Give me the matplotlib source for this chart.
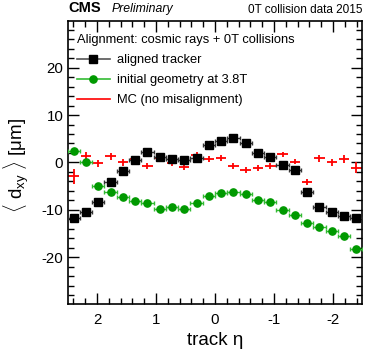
import numpy as np
import matplotlib
matplotlib.use("Agg")
import matplotlib.pyplot as plt
from matplotlib.lines import Line2D
from matplotlib.ticker import MultipleLocator

plt.rcParams['font.family'] = ['Liberation Sans', 'DejaVu Sans']
plt.rcParams['mathtext.fontset'] = 'custom'
plt.rcParams['mathtext.rm'] = 'Liberation Sans'
plt.rcParams['mathtext.it'] = 'Liberation Sans:italic'
plt.rcParams['axes.unicode_minus'] = False

# 24 eta bins between -2.5 and 2.5
eta_edges = np.linspace(-2.5, 2.5, 25)
eta = 0.5 * (eta_edges[:-1] + eta_edges[1:])
eta_halfwidth = 0.5 * (eta_edges[1] - eta_edges[0])

# values listed from eta = +2.4 down to eta = -2.4
aligned_tracker = [-11.7, -10.4, -8.3, -4.1, -1.9, 0.5, 2.3, 1.2, 0.7, 0.5, 0.9, 3.6,
                   4.5, 5.2, 4.2, 1.9, 1.2, -0.5, -1.6, -6.2, -9.3, -10.4, -11.3, -11.7]
initial_geometry = [2.5, 0.2, -5.0, -6.2, -7.3, -8.1, -8.6, -9.8, -9.3, -9.9, -8.6, -7.0,
                    -6.4, -6.2, -6.7, -7.9, -8.4, -10.0, -11.1, -12.8, -13.6, -14.5, -15.5, -18.2]
mc_no_misalignment = [-2.9, 1.4, -0.2, 1.3, 0.0, 0.8, -0.7, 0.9, -0.1, -1.0, 1.5, 0.7,
                      0.9, -0.7, -1.6, -1.2, -0.7, 1.7, 0.2, -4.1, 0.9, 0.0, 0.7, -1.1]
mc_error = [1.6, 0.8, 0.7, 0.7, 0.7, 0.6, 0.6, 0.6, 0.6, 0.6, 0.6, 0.6,
            0.6, 0.6, 0.6, 0.6, 0.6, 0.6, 0.6, 0.7, 0.7, 0.7, 0.8, 1.2]

eta_desc = eta[::-1]

fig = plt.figure(figsize=(3.65, 3.49), dpi=100)
ax = fig.add_axes([0.185, 0.128, 0.808, 0.813])

ax.errorbar(eta_desc, mc_no_misalignment, xerr=eta_halfwidth * 0.85, yerr=mc_error,
            fmt='none', ecolor='#ff0000', elinewidth=1.3, capsize=0, zorder=2)
ax.errorbar(eta_desc, initial_geometry, xerr=eta_halfwidth, fmt='o', color='#009900',
            markersize=5.2, ecolor='#33bb33', elinewidth=1.0, capsize=1.5,
            capthick=1.0, zorder=3)
ax.errorbar(eta_desc, aligned_tracker, xerr=eta_halfwidth, fmt='s', color='black',
            markersize=5.2, ecolor='#333333', elinewidth=1.0, capsize=1.5,
            capthick=1.0, zorder=4)

ax.set_xlim(2.5, -2.5)
ax.set_ylim(-29.9, 29.9)
ax.xaxis.set_major_locator(MultipleLocator(1))
ax.xaxis.set_minor_locator(MultipleLocator(0.2))
ax.yaxis.set_major_locator(MultipleLocator(10))
ax.yaxis.set_minor_locator(MultipleLocator(2))
ax.tick_params(which='both', direction='in', top=True, right=True, width=1.0,
               labelsize=10.8, colors='black')
ax.tick_params(which='major', length=8)
ax.tick_params(which='minor', length=4)
ax.tick_params(axis='x', pad=6)
ax.tick_params(axis='y', pad=3)
for s in ax.spines.values():
    s.set_linewidth(1.2)

ax.set_xlabel('track η', fontsize=13.5, labelpad=4)
ax.set_ylabel(r'$\langle$ d$_{\mathrm{xy}}$ $\rangle$ [μm]', fontsize=13.5)
ax.yaxis.set_label_coords(-0.125, 0.49)

fig.text(0.186, 0.958, 'CMS', fontsize=10.5, fontweight='bold', va='bottom')
fig.text(0.305, 0.958, 'Preliminary', fontsize=8.8, style='italic', va='bottom')
fig.text(0.993, 0.955, '0T collision data 2015', fontsize=8.5, ha='right', va='bottom')

handles = [
    Line2D([], [], color='#555555', lw=1.2, marker='s', markersize=5.2,
           markerfacecolor='black', markeredgecolor='black'),
    Line2D([], [], color='#33bb33', lw=1.2, marker='o', markersize=5.2,
           markerfacecolor='#009900', markeredgecolor='#009900'),
    Line2D([], [], color='#ff0000', lw=1.2),
]
labels = ['aligned tracker', 'initial geometry at 3.8T', 'MC (no misalignment)']
leg = ax.legend(handles, labels, title='Alignment: cosmic rays + 0T collisions',
                loc='upper left', bbox_to_anchor=(0.0, 0.985), frameon=False,
                fontsize=9.3, title_fontsize=9.3, alignment='left',
                handlelength=2.6, handletextpad=0.5, labelspacing=0.62,
                borderaxespad=0.4, borderpad=0.3)
leg._legend_box.sep = 6

fig.savefig('out.png', dpi=100)
